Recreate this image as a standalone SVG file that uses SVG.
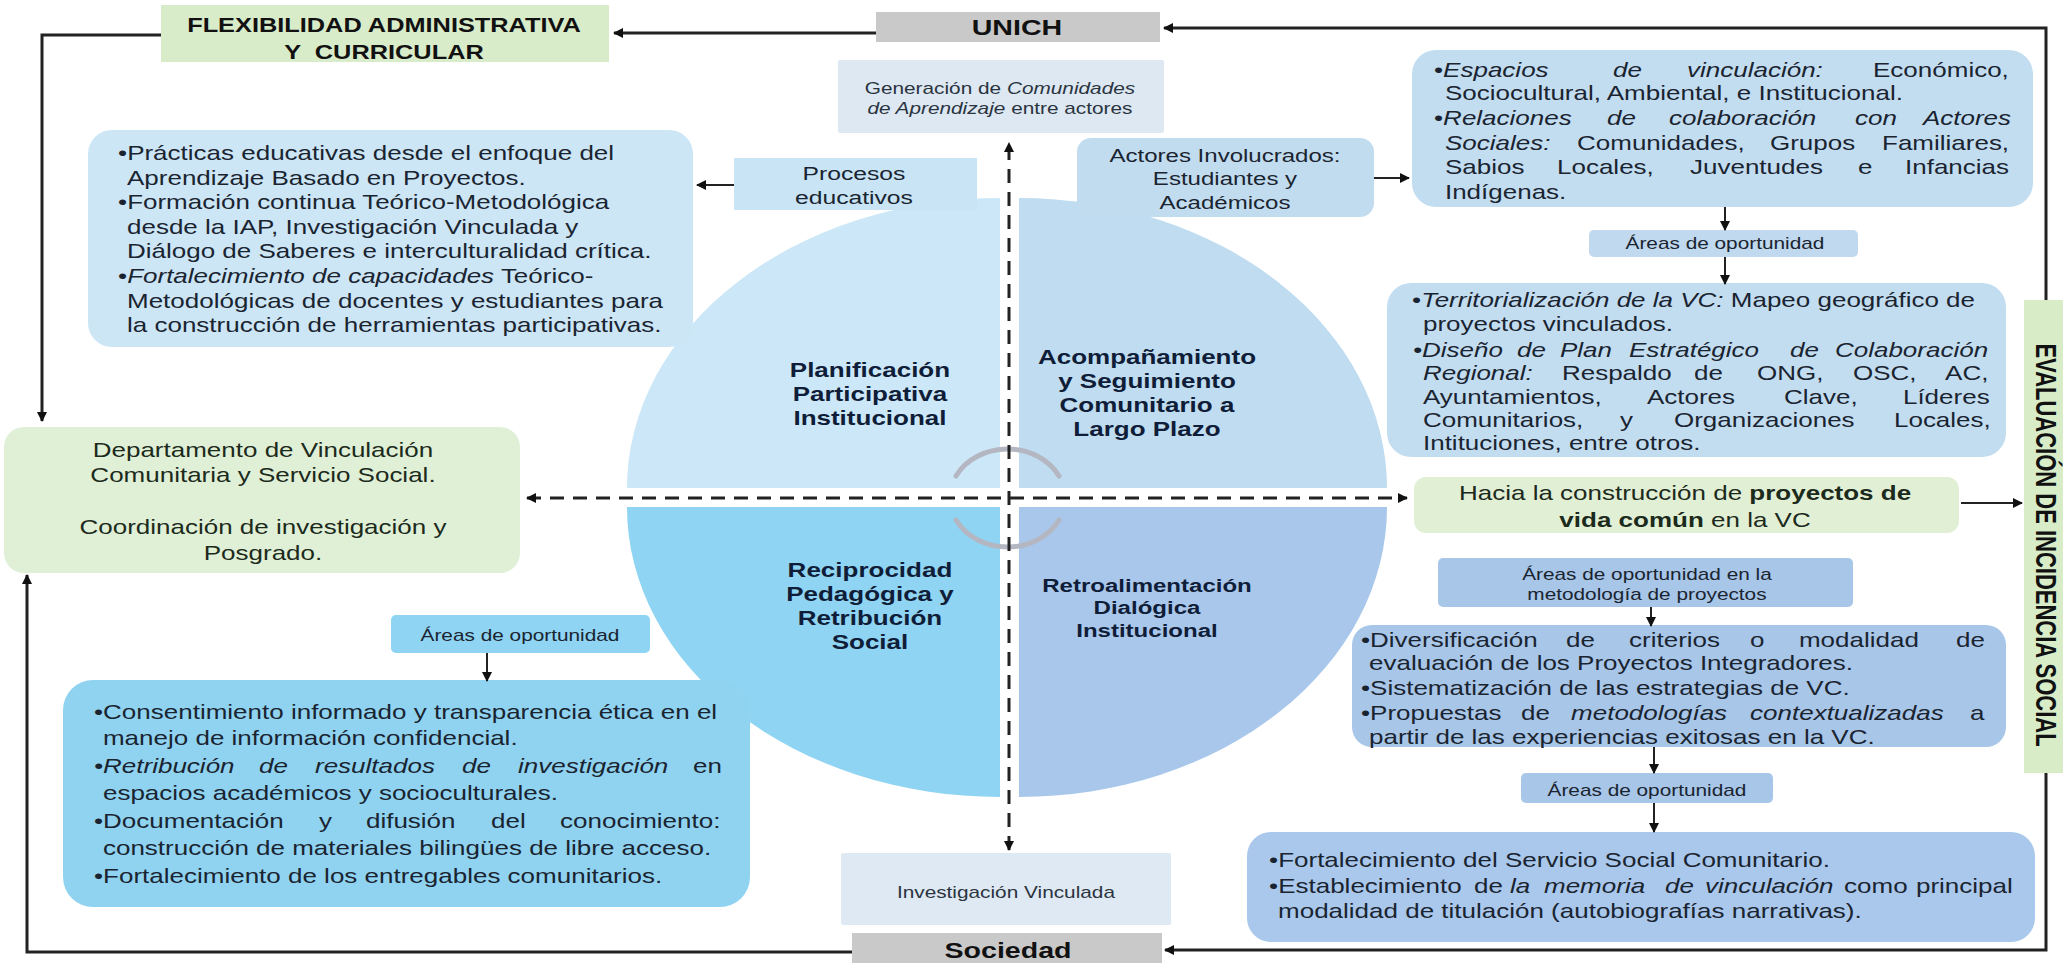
<svg xmlns="http://www.w3.org/2000/svg" width="2063" height="963" viewBox="0 0 2063 963">
<defs>
<style>
.t{font-family:"Liberation Sans",Arial,Helvetica,sans-serif;font-size:20px;fill:#1a2430}
.b{font-weight:bold}
.i{font-style:italic}
.q{font-family:"Liberation Sans",Arial,Helvetica,sans-serif;font-weight:bold;font-size:20px;fill:#0f1d38}
.sm{font-size:16px}
.ln{fill:none;stroke:#222;stroke-width:3}
.thin{fill:none;stroke:#222;stroke-width:2}
.dash{fill:none;stroke:#222;stroke-width:3;stroke-dasharray:14 9}
.arc{fill:none;stroke:#b4b7c2;stroke-width:5;stroke-linecap:round}
</style>
<marker id="ah" viewBox="0 0 10 10" markerWidth="10" markerHeight="10" refX="9" refY="5" orient="auto-start-reverse" markerUnits="userSpaceOnUse"><path d="M0,0 L10,5 L0,10 z" fill="#111"/></marker>
</defs>
<rect x="0" y="0" width="2063" height="963" fill="#ffffff"/>

<g id="circle">
<path d="M1000,488 L627,488 A373,290 0 0,1 1000,198 Z" fill="#cce8f8"/>
<path d="M1019,488 L1019,198 A368,290 0 0,1 1387,488 Z" fill="#bfdcf0"/>
<path d="M1000,507 L627,507 A373,290 0 0,0 1000,797 Z" fill="#8fd4f2"/>
<path d="M1019,507 L1387,507 A368,290 0 0,1 1019,797 Z" fill="#a8c7eb"/>
<path class="arc" d="M956,476 A58,50 0 0,1 1059,476"/>
<path class="arc" d="M956,520 A58,50 0 0,0 1059,520"/>
<text class="q" transform="scale(1.3 1)" text-anchor="middle"><tspan x="669.2" y="377">Planificación</tspan><tspan x="669.2" y="401">Participativa</tspan><tspan x="669.2" y="425">Institucional</tspan></text>
<text class="q" transform="scale(1.3 1)" text-anchor="middle"><tspan x="882.3" y="364">Acompañamiento</tspan><tspan x="882.3" y="388">y Seguimiento</tspan><tspan x="882.3" y="412">Comunitario a</tspan><tspan x="882.3" y="436">Largo Plazo</tspan></text>
<text class="q" transform="scale(1.3 1)" text-anchor="middle"><tspan x="669.2" y="577">Reciprocidad</tspan><tspan x="669.2" y="601">Pedagógica y</tspan><tspan x="669.2" y="625">Retribución</tspan><tspan x="669.2" y="649">Social</tspan></text>
<text class="q" transform="scale(1.3 1)" text-anchor="middle" style="font-size:18.5px"><tspan x="882.3" y="592">Retroalimentación</tspan><tspan x="882.3" y="614">Dialógica</tspan><tspan x="882.3" y="637">Institucional</tspan></text>
</g>

<g id="flexibilidad">
<rect x="161" y="5" width="448" height="57" fill="#d9ecc9"/>
<text class="t b" transform="scale(1.3 1)" text-anchor="middle" style="font-size:19.5px;fill:#111" xml:space="preserve"><tspan x="295.4" y="32">FLEXIBILIDAD ADMINISTRATIVA</tspan><tspan x="295.4" y="59">Y  CURRICULAR</tspan></text>
</g>

<g id="unich">
<rect x="876" y="12" width="284" height="30" fill="#c9c9c9"/>
<text class="t b" transform="scale(1.3 1)" x="782.3" y="35" text-anchor="middle" style="font-size:22px;fill:#111">UNICH</text>
</g>

<g id="sociedad">
<rect x="852" y="933" width="310" height="32" fill="#c9c9c9"/>
<text class="t b" transform="scale(1.3 1)" x="775.4" y="958" text-anchor="middle" style="font-size:22px;fill:#111">Sociedad</text>
</g>

<g id="evaluacion">
<rect x="2024" y="300" width="45" height="473" fill="#d8ecc8"/>
<text class="t b" transform="scale(1.3 1) translate(1566.2 545) rotate(90)" x="0" y="0" text-anchor="middle" style="font-size:22px;fill:#111">EVALUACIÓN DE INCIDENCIA SOCIAL</text>
</g>

<g id="generacion">
<rect x="838" y="60" width="326" height="73" rx="2" fill="#dde8f2"/>
<text class="t sm" transform="scale(1.3 1)" text-anchor="middle" style="fill:#2a3440"><tspan x="769.2" y="94">Generación de <tspan class="i">Comunidades</tspan></tspan><tspan x="769.2" y="114"><tspan class="i">de Aprendizaje</tspan> entre actores</tspan></text>
</g>

<g id="investigacion">
<rect x="841" y="853" width="330" height="72" rx="2" fill="#dfe9f3"/>
<text class="t sm" transform="scale(1.3 1)" x="773.8" y="898" text-anchor="middle" style="fill:#2a3440">Investigación Vinculada</text>
</g>

<g id="procesos">
<rect x="734" y="158" width="243" height="52" fill="#c8e4f5"/>
<text class="t" transform="scale(1.3 1)" text-anchor="middle" style="font-size:19px"><tspan x="656.9" y="180">Procesos</tspan><tspan x="656.9" y="204">educativos</tspan></text>
</g>

<g id="actores">
<rect x="1077" y="138" width="297" height="79" rx="14" fill="#c2dcef"/>
<text class="t" transform="scale(1.3 1)" text-anchor="middle" style="font-size:18.5px"><tspan x="942.3" y="162">Actores Involucrados:</tspan><tspan x="942.3" y="185">Estudiantes y</tspan><tspan x="942.3" y="209">Académicos</tspan></text>
</g>

<g id="practicas">
<rect x="88" y="130" width="605" height="217" rx="24" fill="#cce6f6"/>
<text class="t" transform="scale(1.3 1)">
<tspan x="90.8" y="160">•Prácticas educativas desde el enfoque del</tspan>
<tspan x="97.7" y="184.6">Aprendizaje Basado en Proyectos.</tspan>
<tspan x="90.8" y="209">•Formación continua Teórico-Metodológica</tspan>
<tspan x="97.7" y="234">desde la IAP, Investigación Vinculada y</tspan>
<tspan x="97.7" y="258">Diálogo de Saberes e interculturalidad crítica.</tspan>
<tspan x="90.8" y="283">•<tspan class="i">Fortalecimiento de capacidades</tspan> Teórico-</tspan>
<tspan x="97.7" y="308">Metodológicas de docentes y estudiantes para</tspan>
<tspan x="97.7" y="332">la construcción de herramientas participativas.</tspan>
</text>
</g>

<g id="departamento">
<rect x="4" y="427" width="516" height="146" rx="20" fill="#e0f0d6"/>
<text class="t" transform="scale(1.3 1)" text-anchor="middle" style="fill:#1c2a1c"><tspan x="202.3" y="457">Departamento de Vinculación</tspan><tspan x="202.3" y="482">Comunitaria y Servicio Social.</tspan><tspan x="202.3" y="534">Coordinación de investigación y</tspan><tspan x="202.3" y="560">Posgrado.</tspan></text>
</g>

<g id="areas-izq">
<rect x="391" y="615" width="259" height="38" rx="5" fill="#8fd4f2"/>
<text class="t sm" transform="scale(1.3 1)" x="400" y="641" text-anchor="middle">Áreas de oportunidad</text>
</g>

<g id="consentimiento">
<rect x="63" y="680" width="687" height="227" rx="30" fill="#8fd3f1"/>
<text class="t" transform="scale(1.3 1)">
<tspan x="72.3" y="719">•Consentimiento informado y transparencia ética en el</tspan>
<tspan x="79.2" y="745">manejo de información confidencial.</tspan>
<tspan x="72.3" y="773" class="i">•Retribución</tspan><tspan x="199.2" y="773" class="i">de</tspan><tspan x="242.3" y="773" class="i">resultados</tspan><tspan x="355.4" y="773" class="i">de</tspan><tspan x="398.5" y="773" class="i">investigación</tspan><tspan x="533.1" y="773">en</tspan>
<tspan x="79.2" y="800">espacios académicos y socioculturales.</tspan>
<tspan x="72.3" y="828">•Documentación</tspan><tspan x="245.4" y="828">y</tspan><tspan x="281.5" y="828">difusión</tspan><tspan x="377.7" y="828">del</tspan><tspan x="430.8" y="828">conocimiento:</tspan>
<tspan x="79.2" y="855">construcción de materiales bilingües de libre acceso.</tspan>
<tspan x="72.3" y="883">•Fortalecimiento de los entregables comunitarios.</tspan>
</text>
</g>

<g id="espacios">
<rect x="1412" y="50" width="621" height="157" rx="24" fill="#c3ddf0"/>
<text class="t" transform="scale(1.3 1)">
<tspan x="1103.1" y="77">•<tspan class="i">Espacios</tspan></tspan><tspan x="1240.8" y="77" class="i">de</tspan><tspan x="1297.7" y="77" class="i">vinculación:</tspan><tspan x="1440.8" y="77">Económico,</tspan>
<tspan x="1111.5" y="100">Sociocultural, Ambiental, e Institucional.</tspan>
<tspan x="1103.1" y="125">•<tspan class="i">Relaciones</tspan></tspan><tspan x="1236.2" y="125" class="i">de</tspan><tspan x="1283.8" y="125" class="i">colaboración</tspan><tspan x="1426.9" y="125" class="i">con</tspan><tspan x="1479.2" y="125" class="i">Actores</tspan>
<tspan x="1111.5" y="150" class="i">Sociales:</tspan><tspan x="1213.1" y="150">Comunidades,</tspan><tspan x="1361.5" y="150">Grupos</tspan><tspan x="1447.7" y="150">Familiares,</tspan>
<tspan x="1111.5" y="174">Sabios</tspan><tspan x="1197.7" y="174">Locales,</tspan><tspan x="1300" y="174">Juventudes</tspan><tspan x="1429.2" y="174">e</tspan><tspan x="1465.4" y="174">Infancias</tspan>
<tspan x="1111.5" y="199">Indígenas.</tspan>
</text>
</g>

<g id="areas-der1">
<rect x="1589" y="230" width="269" height="27" rx="5" fill="#c0d9ee"/>
<text class="t sm" transform="scale(1.3 1)" x="1326.9" y="249" text-anchor="middle">Áreas de oportunidad</text>
</g>

<g id="territorializacion">
<rect x="1387" y="283" width="619" height="174" rx="24" fill="#c3ddf0"/>
<text class="t" transform="scale(1.3 1)">
<tspan x="1086.2" y="307">•<tspan class="i">Territorialización de la VC:</tspan> Mapeo geográfico de</tspan>
<tspan x="1094.6" y="331">proyectos vinculados.</tspan>
<tspan x="1086.9" y="357" class="i">•Diseño</tspan><tspan x="1166.9" y="357" class="i">de</tspan><tspan x="1200" y="357" class="i">Plan</tspan><tspan x="1253.1" y="357" class="i">Estratégico</tspan><tspan x="1376.9" y="357" class="i">de</tspan><tspan x="1411.5" y="357" class="i">Colaboración</tspan>
<tspan x="1094.6" y="380" class="i">Regional:</tspan><tspan x="1201.5" y="380">Respaldo</tspan><tspan x="1303.1" y="380">de</tspan><tspan x="1351.5" y="380">ONG,</tspan><tspan x="1425.4" y="380">OSC,</tspan><tspan x="1496.2" y="380">AC,</tspan>
<tspan x="1094.6" y="404">Ayuntamientos,</tspan><tspan x="1266.9" y="404">Actores</tspan><tspan x="1372.3" y="404">Clave,</tspan><tspan x="1463.8" y="404">Líderes</tspan>
<tspan x="1094.6" y="427">Comunitarios,</tspan><tspan x="1246.2" y="427">y</tspan><tspan x="1287.7" y="427">Organizaciones</tspan><tspan x="1456.9" y="427">Locales,</tspan>
<tspan x="1094.6" y="450">Intituciones, entre otros.</tspan>
</text>
</g>

<g id="hacia">
<rect x="1414" y="477" width="545" height="56" rx="12" fill="#e1efd5"/>
<text class="t" transform="scale(1.3 1)" text-anchor="middle" style="fill:#1c2a1c"><tspan x="1296.2" y="500">Hacia la construcción de <tspan class="b">proyectos de</tspan></tspan><tspan x="1296.2" y="527"><tspan class="b">vida común</tspan> en la VC</tspan></text>
</g>

<g id="areas-metodologia">
<rect x="1438" y="558" width="415" height="49" rx="5" fill="#a8c6e8"/>
<text class="t sm" transform="scale(1.3 1)" text-anchor="middle"><tspan x="1266.9" y="580">Áreas de oportunidad en la</tspan><tspan x="1266.9" y="600">metodología de proyectos</tspan></text>
</g>

<g id="diversificacion">
<rect x="1352" y="625" width="654" height="122" rx="20" fill="#a8c6e8"/>
<text class="t" transform="scale(1.3 1)">
<tspan x="1046.9" y="647">•Diversificación</tspan><tspan x="1204.6" y="647">de</tspan><tspan x="1253.1" y="647">criterios</tspan><tspan x="1346.2" y="647">o</tspan><tspan x="1383.8" y="647">modalidad</tspan><tspan x="1504.6" y="647">de</tspan>
<tspan x="1053.1" y="670">evaluación de los Proyectos Integradores.</tspan>
<tspan x="1046.9" y="695">•Sistematización de las estrategias de VC.</tspan>
<tspan x="1046.9" y="720">•Propuestas</tspan><tspan x="1170" y="720">de</tspan><tspan x="1208.5" y="720" class="i">metodologías</tspan><tspan x="1346.2" y="720" class="i">contextualizadas</tspan><tspan x="1515.4" y="720">a</tspan>
<tspan x="1053.1" y="744">partir de las experiencias exitosas en la VC.</tspan>
</text>
</g>

<g id="areas-der2">
<rect x="1521" y="773" width="252" height="30" rx="5" fill="#a8c6e8"/>
<text class="t sm" transform="scale(1.3 1)" x="1266.9" y="796" text-anchor="middle">Áreas de oportunidad</text>
</g>

<g id="servicio">
<rect x="1247" y="832" width="788" height="110" rx="24" fill="#a9c8ec"/>
<text class="t" transform="scale(1.3 1)">
<tspan x="976.2" y="867">•Fortalecimiento del Servicio Social Comunitario.</tspan>
<tspan x="976.2" y="893">•Establecimiento</tspan><tspan x="1133.8" y="893">de</tspan><tspan x="1161.5" y="893" class="i">la</tspan><tspan x="1187.7" y="893" class="i">memoria</tspan><tspan x="1280.8" y="893" class="i">de</tspan><tspan x="1311.5" y="893" class="i">vinculación</tspan><tspan x="1418.5" y="893">como</tspan><tspan x="1473.8" y="893">principal</tspan>
<tspan x="983.1" y="918">modalidad de titulación (autobiografías narrativas).</tspan>
</text>
</g>

<g id="connectors">
<path class="ln" d="M876,33 L614,33" marker-end="url(#ah)"/>
<path class="ln" d="M161,35 L42,35 L42,421" marker-end="url(#ah)"/>
<path class="ln" d="M852,952 L27,952 L27,575" marker-end="url(#ah)"/>
<path class="ln" d="M2046,300 L2046,28 L1164,28" marker-end="url(#ah)"/>
<path class="ln" d="M2046,773 L2046,950 L1165,950" marker-end="url(#ah)"/>
<path class="thin" d="M734,185 L697,185" marker-end="url(#ah)"/>
<path class="thin" d="M1374,178 L1409,178" marker-end="url(#ah)"/>
<path class="thin" d="M1725,207 L1725,230" marker-end="url(#ah)"/>
<path class="thin" d="M1725,257 L1725,284" marker-end="url(#ah)"/>
<path class="thin" d="M1961,503 L2022,503" marker-end="url(#ah)"/>
<path class="thin" d="M1651,607 L1651,626" marker-end="url(#ah)"/>
<path class="thin" d="M1654,747 L1654,773" marker-end="url(#ah)"/>
<path class="thin" d="M1654,803 L1654,832" marker-end="url(#ah)"/>
<path class="thin" d="M487,653 L487,681" marker-end="url(#ah)"/>
<path class="dash" d="M1009,850 L1009,143" marker-start="url(#ah)" marker-end="url(#ah)"/>
<path class="dash" d="M527,498 L1407,498" marker-start="url(#ah)" marker-end="url(#ah)"/>
</g>
</svg>
